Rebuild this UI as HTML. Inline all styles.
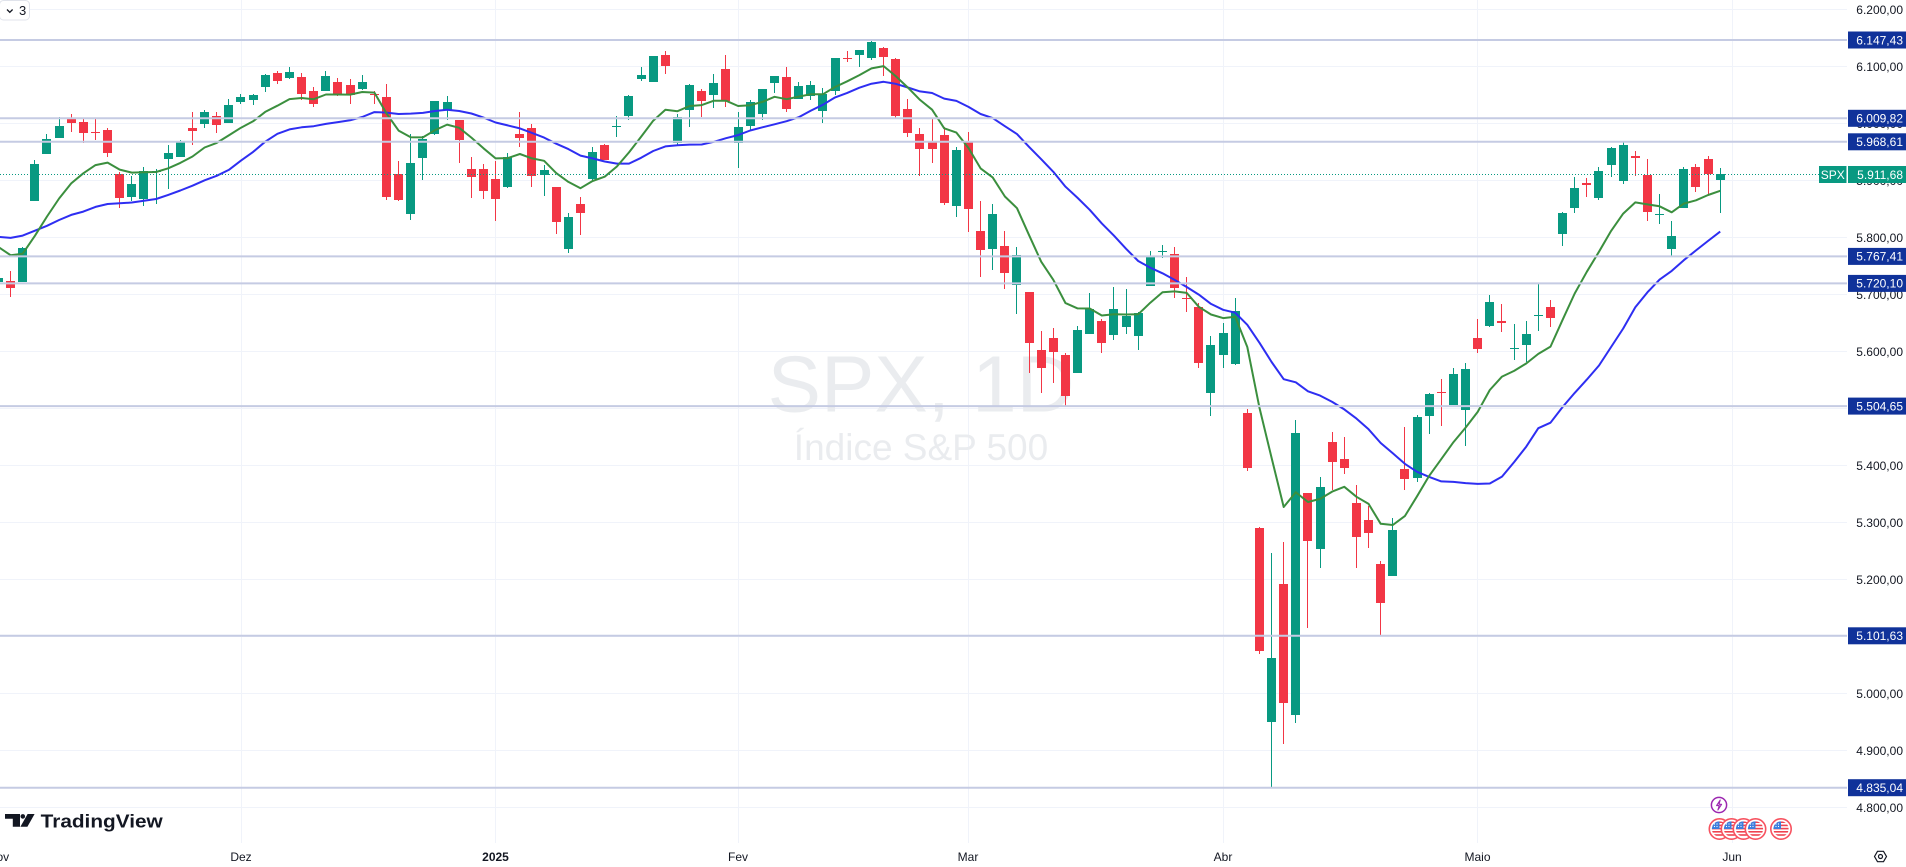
<!DOCTYPE html>
<html><head><meta charset="utf-8">
<style>
html,body{margin:0;padding:0;background:#fff;}
body{width:1906px;height:867px;overflow:hidden;font-family:"Liberation Sans",Arial,sans-serif;}
svg{display:block;}
.ax{font-family:"Liberation Sans",Arial,sans-serif;font-size:12px;fill:#131722;}
.lb{font-family:"Liberation Sans",Arial,sans-serif;font-size:12px;fill:#ffffff;}
</style></head><body>
<svg id="c" width="1906" height="867" viewBox="0 0 1906 867" xmlns="http://www.w3.org/2000/svg">
<defs>
<clipPath id="plot"><rect x="0" y="0" width="1847" height="843"/></clipPath>
<clipPath id="fc"><circle cx="0" cy="0" r="7.6"/></clipPath>
<g id="flag">
<circle r="10.2" fill="#fff" stroke="#f7525f" stroke-width="1.6"/>
<g clip-path="url(#fc)">
<rect x="-8" y="-8" width="16" height="16" fill="#fff"/>
<rect x="-8" y="-7.6" width="16" height="1.6" fill="#ef4350"/>
<rect x="-8" y="-4.4" width="16" height="1.6" fill="#ef4350"/>
<rect x="-8" y="-1.2" width="16" height="1.6" fill="#ef4350"/>
<rect x="-8" y="2" width="16" height="1.6" fill="#ef4350"/>
<rect x="-8" y="5.2" width="16" height="1.6" fill="#ef4350"/>
<rect x="-8" y="-8" width="8" height="8" fill="#3b7ddd"/>
<circle cx="-5" cy="-5" r="0.6" fill="#fff"/><circle cx="-2.5" cy="-5" r="0.6" fill="#fff"/>
<circle cx="-5" cy="-2.5" r="0.6" fill="#fff"/><circle cx="-2.5" cy="-2.5" r="0.6" fill="#fff"/>
</g>
</g>
</defs>
<rect width="1906" height="867" fill="#fff"/>

<!-- grid -->
<g stroke="#f0f3fa" stroke-width="1" fill="none">
<line x1="0" y1="9.5" x2="1847" y2="9.5"/>
<line x1="0" y1="66.5" x2="1847" y2="66.5"/>
<line x1="0" y1="123.5" x2="1847" y2="123.5"/>
<line x1="0" y1="180.5" x2="1847" y2="180.5"/>
<line x1="0" y1="237.5" x2="1847" y2="237.5"/>
<line x1="0" y1="294.5" x2="1847" y2="294.5"/>
<line x1="0" y1="351.5" x2="1847" y2="351.5"/>
<line x1="0" y1="408.5" x2="1847" y2="408.5"/>
<line x1="0" y1="465.5" x2="1847" y2="465.5"/>
<line x1="0" y1="522.5" x2="1847" y2="522.5"/>
<line x1="0" y1="579.5" x2="1847" y2="579.5"/>
<line x1="0" y1="636.5" x2="1847" y2="636.5"/>
<line x1="0" y1="693.5" x2="1847" y2="693.5"/>
<line x1="0" y1="750.5" x2="1847" y2="750.5"/>
<line x1="0" y1="807.5" x2="1847" y2="807.5"/>
<line x1="241.5" y1="0" x2="241.5" y2="843"/>
<line x1="495.5" y1="0" x2="495.5" y2="843"/>
<line x1="738.5" y1="0" x2="738.5" y2="843"/>
<line x1="968.5" y1="0" x2="968.5" y2="843"/>
<line x1="1223.5" y1="0" x2="1223.5" y2="843"/>
<line x1="1477.5" y1="0" x2="1477.5" y2="843"/>
<line x1="1732.5" y1="0" x2="1732.5" y2="843"/>
</g>

<!-- watermark -->
<text x="921" y="411.5" text-anchor="middle" font-family="Liberation Sans, Arial, sans-serif" font-size="80" fill="#eaecef">SPX, 1D</text>
<text x="921" y="460" text-anchor="middle" font-family="Liberation Sans, Arial, sans-serif" font-size="37" fill="#eaecef">Índice S&amp;P 500</text>

<g clip-path="url(#plot)">
<g id="candles"></g>
<g id="mas"></g>
<!-- level lines -->
<g stroke="#c5cbe3" stroke-width="2">
<line x1="0" y1="40" x2="1847" y2="40"/>
<line x1="0" y1="118.3" x2="1847" y2="118.3"/>
<line x1="0" y1="141.8" x2="1847" y2="141.8"/>
<line x1="0" y1="256.4" x2="1847" y2="256.4"/>
<line x1="0" y1="283.4" x2="1847" y2="283.4"/>
<line x1="0" y1="406.1" x2="1847" y2="406.1"/>
<line x1="0" y1="635.8" x2="1847" y2="635.8"/>
<line x1="0" y1="787.7" x2="1847" y2="787.7"/>
</g>
<line x1="0" y1="174.5" x2="1847" y2="174.5" stroke="#089981" stroke-width="1" stroke-dasharray="1 2"/>
</g>

<!-- top-left button -->
<rect x="-0.5" y="0.5" width="30" height="19.5" rx="4" fill="#fff" stroke="#e0e3eb" stroke-width="1"/>
<path d="M7 9.5 L9.8 12.3 L12.6 9.5" fill="none" stroke="#131722" stroke-width="1.3"/>
<text x="19" y="15" font-family="Liberation Sans, Arial, sans-serif" font-size="13" fill="#131722">3</text>

<!-- price axis labels -->
<g class="ax" text-anchor="end">
<text x="1903" y="14.2">6.200,00</text>
<text x="1903" y="71.2">6.100,00</text>
<text x="1903" y="128.2">6.000,00</text>
<text x="1903" y="185.2">5.900,00</text>
<text x="1903" y="242.2">5.800,00</text>
<text x="1903" y="299.2">5.700,00</text>
<text x="1903" y="356.1">5.600,00</text>
<text x="1903" y="413.1">5.500,00</text>
<text x="1903" y="470.1">5.400,00</text>
<text x="1903" y="527.1">5.300,00</text>
<text x="1903" y="584.1">5.200,00</text>
<text x="1903" y="641">5.100,00</text>
<text x="1903" y="698">5.000,00</text>
<text x="1903" y="755">4.900,00</text>
<text x="1903" y="812">4.800,00</text>
</g>

<!-- level boxes -->
<g fill="#10329a">
<rect x="1848" y="31.5" width="58" height="17"/>
<rect x="1848" y="109.8" width="58" height="17"/>
<rect x="1848" y="133.3" width="58" height="17"/>
<rect x="1848" y="247.9" width="58" height="17"/>
<rect x="1848" y="274.9" width="58" height="17"/>
<rect x="1848" y="397.6" width="58" height="17"/>
<rect x="1848" y="627.3" width="58" height="17"/>
<rect x="1848" y="779.2" width="58" height="17"/>
</g>
<rect x="1819" y="166" width="27.5" height="17" fill="#089981"/>
<rect x="1848" y="166" width="58" height="17" fill="#089981"/>
<g class="lb" text-anchor="end">
<text x="1903" y="44.3">6.147,43</text>
<text x="1903" y="122.6">6.009,82</text>
<text x="1903" y="146.1">5.968,61</text>
<text x="1903" y="178.8">5.911,68</text>
<text x="1903" y="260.7">5.767,41</text>
<text x="1903" y="287.7">5.720,10</text>
<text x="1903" y="410.4">5.504,65</text>
<text x="1903" y="640.1">5.101,63</text>
<text x="1903" y="792">4.835,04</text>
</g>
<text x="1832.7" y="178.8" text-anchor="middle" class="lb" font-size="12">SPX</text>

<!-- time axis -->
<g class="ax" text-anchor="middle">
<text x="-1.5" y="861">Nov</text>
<text x="241" y="861">Dez</text>
<text x="495.5" y="861" font-weight="bold">2025</text>
<text x="738" y="861">Fev</text>
<text x="968" y="861">Mar</text>
<text x="1223" y="861">Abr</text>
<text x="1477.5" y="861">Maio</text>
<text x="1732" y="861">Jun</text>
</g>

<!-- TradingView logo -->
<polygon points="5,814 20,814 20,826.7 12.8,826.7 12.8,818.8 5,818.8" fill="#131722"/>
<circle cx="22.8" cy="816.4" r="2.3" fill="#131722"/>
<polygon points="27.6,814 34.6,814 27.4,826.7 20.4,826.7" fill="#131722"/>
<text x="40.7" y="827.3" font-family="Liberation Sans, Arial, sans-serif" font-weight="bold" font-size="18" fill="#131722" textLength="122" lengthAdjust="spacingAndGlyphs">TradingView</text>

<!-- event icons -->
<circle cx="1719" cy="805" r="7.6" fill="#fff" stroke="#9c27b0" stroke-width="1.5"/>
<path d="M1720.2 800 L1716.6 805.6 L1719.2 805.6 L1717.9 810 L1721.6 804.3 L1719 804.3 Z" fill="none" stroke="#9c27b0" stroke-width="1.1" stroke-linejoin="round"/>
<use href="#flag" x="1719.5" y="829"/>
<use href="#flag" x="1731.5" y="829"/>
<use href="#flag" x="1743.5" y="829"/>
<use href="#flag" x="1755.5" y="829"/>
<use href="#flag" x="1781" y="829"/>

<!-- settings -->
<polygon points="1874.5,856.5 1877.5,851.3 1883.5,851.3 1886.5,856.5 1883.5,861.7 1877.5,861.7" fill="none" stroke="#131722" stroke-width="1.2"/>
<circle cx="1880.5" cy="856.5" r="2" fill="none" stroke="#131722" stroke-width="1.2"/>
</svg>
<script>
(function(){
var D=[
[5723,5772,5723,5728.8],
[5725,5741,5696,5712.7],[5722,5783,5722,5782.8],[5864,5936,5864,5929],[5947,5983,5947,5973],[5976,6012,5976,5995.5],
[6008,6017,5986,6001.4],[6003,6008,5966,5984],[5985.8,6009,5971,5985.4],[5989,5993,5942,5949.2],[5912,5915,5853,5870.6],
[5872,5909,5865,5893.6],[5868,5924,5855,5917],[5915.5,5920,5860,5917.1],[5939,5963,5886,5948.7],[5942,5972,5942,5969.3],
[5992,6021,5963,5987.4],[5999,6025,5992,6021.6],[6014,6020,5984,5998.7],[6001,6044,6001,6032.4],
[6038,6053,6035,6047.2],[6042,6052,6033,6049.9],[6065,6087,6056,6086.5],[6089,6092,6070,6075.1],[6081,6100,6079,6090.3],
[6083,6089,6042,6052.9],[6057,6065,6029,6034.9],[6058,6092,6058,6084.2],[6074,6080,6049,6051.3],[6068,6078,6035,6051.1],
[6062,6085,6059,6074.1],[6053,6057,6035,6050.6],[6047,6070,5867,5872.2],[5912,5935,5865,5867.1],[5841,5982,5832,5930.9],
[5940,5978,5902,5974.1],[5983,6040,5981,6040],[6024,6049,6007,6037.6],[6006,6006,5932,5970.8],[5921,5941,5869,5906.9],
[5920,5929,5868,5881.6],[5903,5935,5829,5868.6],[5890,5949,5888,5942.5],[5982,6021,5960,5975.4],[5993,6000,5890,5909],
[5910,5927,5874,5918.3],[5890,5890,5807,5827],[5780,5843,5773,5836.2],[5859,5872,5805,5842.9],[5904,5960,5900,5949.9],
[5962,5965,5936,5937.3],[5995,6014,5977,5996.7],[6013,6051,6007,6049.2],[6078,6100,6075,6086.4],[6074,6118,6074,6118.7],
[6121,6128,6088,6101.2],[5967,6017,5962,6012.3],[6025,6070,5995,6067.7],[6057,6062,6012,6039.3],[6050,6087,6027,6071.2],
[6096,6121,6030,6040.5],[5967,6021,5923,5994.6],[5997,6042,5990,6037.9],[6018,6062,6007,6061.5],[6071,6084,6055,6083.6],
[6083,6100,6020,6026],[6044,6073,6044,6066.4],[6048,6076,6042,6068.5],[6023,6063,6002,6052],[6058,6116,6051,6115.1],
[6115.5,6127,6109,6114.6],[6120,6129.6,6099,6129.6],[6116,6147,6112,6144.2],[6133,6134,6084,6117.5],[6114,6115,6009,6013.1],
[6026,6044,5977,5983.3],[5982,5993,5909,5955.3],[5970,6009,5932,5956.1],[5981,5994,5858,5861.6],[5856,5959,5837,5954.5],
[5968,5986,5810,5849.7],[5812,5865,5732,5778.2],[5781,5860,5743,5842.6],[5786,5812,5711,5738.5],[5718,5783,5667,5770.2],
[5705,5705,5563,5614.6],[5603,5636,5528,5572.1],[5624,5642,5546,5599.3],[5594,5597,5504,5521.5],[5562,5645,5562,5638.9],
[5631,5703,5631,5675.1],[5654,5658,5597,5614.7],[5629,5714,5621,5675.3],[5643.5,5710,5632,5662.9],[5628,5670,5603,5667.6],
[5716,5776,5716,5767.6],[5775,5787,5764,5776.7],[5772,5783,5694,5712.2],[5695,5731,5670,5693.3],[5679,5685,5572,5580.9],
[5527,5627,5488,5611.9],[5595,5651,5572,5633.1],[5579,5695,5576,5671],[5492,5500,5390,5396.5],[5291,5292,5069,5074.1],
[4951,5246,4835,5062.3],[5193,5267,4911,4982.8],[4963,5481,4949,5456.9],[5353,5353,5115,5268.1],[5253,5381,5221,5363.4],
[5442,5460,5358,5406],[5412,5450,5386,5396.6],[5335,5367,5221,5275.7],[5305,5329,5255,5282.7],[5228,5232,5102,5158.2],
[5206,5309,5206,5287.8],[5395,5468,5357,5375.9],[5379,5489,5371,5484.8],[5488,5528,5456,5525.2],[5529.2,5553,5469,5528.8],
[5507,5571,5506,5560.8],[5497,5581,5434,5569.1],[5625,5658,5597,5604.1],[5645,5700,5644,5686.7],[5654,5683,5634,5650.4],
[5605.9,5649,5586,5606.9],[5612,5654,5582,5631.3],[5663,5719,5636,5663.9],[5679,5691,5644,5659.9],[5806,5845,5786,5844.2],
[5853,5907,5844,5886.6],[5896,5905,5872,5892.6],[5869,5925,5866,5916.9],[5927,5958.5,5907,5958.4],[5900,5968,5895,5963.6],
[5944,5953,5909,5940.5],[5910,5939,5830,5844.6],[5841.3,5877,5825,5842],[5779.5,5830,5767,5802.8],[5853,5924,5853,5921.5],
[5925,5930,5881,5888.6],[5939,5943,5876,5912.2],[5902,5922,5843,5911.7]
];
var OCT=[5708.75,5709.54,5699.94,5751.07,5695.94,5751.13,5792.04,5780.05,5815.03,5859.85,5815.26,5842.47,5841.47,5864.67,5853.98,5851.20,5797.42,5809.86,5808.12,5823.52,5832.92,5813.67,5705.45];
function X(i){return 10.6+12.125*i;}
function Y(p){return 237.8-(p-5800)*0.5698;}
var s='';
for(var k=0;k<D.length;k++){
  var i=k-1,d=D[k],o=d[0],h=d[1],l=d[2],c=d[3];
  var col=c>=o?'#089981':'#f23645';
  var left=Math.round(X(i)-4.5);
  var yh=Math.round(Y(h)),yl=Math.round(Y(l));
  s+='<rect x="'+(left+4)+'" y="'+yh+'" width="1" height="'+Math.max(1,yl-yh)+'" fill="'+col+'"/>';
  var bt=Math.round(Y(Math.max(o,c))),bb=Math.round(Y(Math.min(o,c)));
  s+='<rect x="'+left+'" y="'+bt+'" width="9" height="'+Math.max(1,bb-bt)+'" fill="'+col+'"/>';
}
document.getElementById('candles').innerHTML=s;
var closes=OCT.concat(D.map(function(d){return d[3];}));
var ema=closes[0],pe=[],ps=[];
for(var j=0;j<closes.length;j++){
  var cc=closes[j];
  ema=(j===0)?cc:ema+0.2*(cc-ema);
  var ii=j-24;
  if(j>=14) pe.push(X(ii).toFixed(1)+','+Y(ema).toFixed(1));
  if(j>=20){var sum=0;for(var m=j-20;m<=j;m++)sum+=closes[m];ps.push(X(ii).toFixed(1)+','+Y(sum/21).toFixed(1));}
}
document.getElementById('mas').innerHTML=
 '<polyline points="'+ps.join(' ')+'" fill="none" stroke="#2e2ef2" stroke-width="2" stroke-linejoin="round"/>'+
 '<polyline points="'+pe.join(' ')+'" fill="none" stroke="#3b8f3e" stroke-width="2" stroke-linejoin="round"/>';
})();
</script>
</body></html>
